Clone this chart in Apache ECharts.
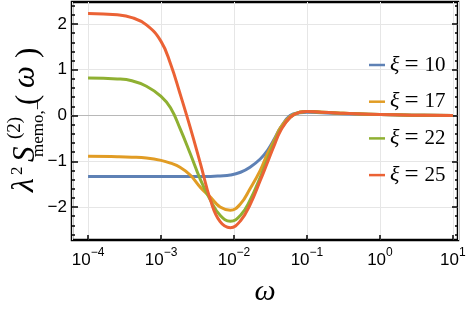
<!DOCTYPE html>
<html>
<head>
<meta charset="utf-8">
<script src="https://cdn.jsdelivr.net/npm/echarts@6/dist/echarts.min.js"></script>
<style>html,body{margin:0;padding:0;background:#fff}#c{width:468px;height:314px}</style>
</head>
<body>
<div id="c"></div>
<script>
// log10(omega) sample positions
const omegaExp = [-4, -3.6, -3.4, -3.2, -3.0, -2.87, -2.74, -2.6, -2.46, -2.32, -2.19, -2.05, -1.91, -1.78, -1.64, -1.54, -1.45, -1.36, -1.23, -1.1, -1.0, -0.8, -0.5, 0, 0.5, 1];
const xi10 = [-1.33,-1.33,-1.33,-1.33,-1.33,-1.33,-1.33,-1.33,-1.33,-1.33,-1.32,-1.30,-1.24,-1.13,-0.95,-0.76,-0.52,-0.26,0.0,0.06,0.07,0.06,0.04,0.02,0.005,0];
const xi17 = [-0.89,-0.90,-0.91,-0.93,-0.98,-1.04,-1.13,-1.30,-1.57,-1.79,-2.00,-2.07,-1.93,-1.60,-1.20,-0.83,-0.55,-0.26,-0.02,0.07,0.09,0.07,0.05,0.02,0.005,0];
const xi22 = [0.82,0.80,0.76,0.64,0.42,0.17,-0.28,-0.83,-1.40,-1.86,-2.18,-2.31,-2.18,-1.85,-1.35,-0.95,-0.60,-0.30,-0.04,0.07,0.09,0.07,0.05,0.02,0.005,0];
const xi25 = [2.23,2.20,2.14,1.98,1.62,1.13,0.48,-0.26,-1.05,-1.86,-2.32,-2.45,-2.30,-1.95,-1.42,-1.02,-0.66,-0.33,-0.04,0.07,0.09,0.07,0.05,0.02,0.005,0];
const seriesNames = ['ξ = 10', 'ξ = 17', 'ξ = 22', 'ξ = 25'];
const seriesValues = [xi10, xi17, xi22, xi25];
const colors = ['#5E81B5', '#E19C24', '#8FB032', '#EB6235'];
const yMajor = [-2, -1, 0, 1, 2];
const yMinor = [-2.6,-2.4,-2.2,-2.0,-1.8,-1.6,-1.4,-1.2,-1.0,-0.8,-0.6,-0.4,-0.2,0,0.2,0.4,0.6,0.8,1.0,1.2,1.4,1.6,1.8,2.0,2.2,2.4];
const xMin = Math.pow(10, -4.22), xMax = Math.pow(10, 1.07);
const yMin = -2.72, yMax = 2.48;

const chart = echarts.init(document.getElementById('c'));
const sansFont = 'Liberation Sans';
const serifFont = 'Liberation Serif';

function yAxisDef(pos, major) {
  return {
    type: 'value', position: pos, min: yMin, max: yMax,
    axisLine: { show: false },
    axisTick: { show: true, inside: true, length: major ? 6 : 3, customValues: major ? yMajor : yMinor,
      lineStyle: { color: '#000', width: 1.5 } },
    axisLabel: { show: major && pos === 'left', customValues: yMajor, fontFamily: sansFont, fontSize: 17, color: '#000', margin: 5,
      formatter: v => String(v).replace('-', '\u2212') },
    splitLine: { show: major && pos === 'left', lineStyle: { color: '#e6e6e6', width: 1 } }
  };
}

chart.setOption({
  animation: false,
  grid: { left: 72, right: 10, top: 2, bottom: 74, show: true, borderColor: '#000', borderWidth: 2.5,
    outerBoundsMode: 'none', containLabel: false },
  xAxis: [{
    type: 'log', min: xMin, max: xMax, position: 'bottom',
    axisLine: { show: false, onZero: false },
    axisTick: { inside: true, length: 5, lineStyle: { color: '#000', width: 1.5 } },
    axisLabel: { showMinLabel: false, showMaxLabel: false, margin: 7, color: '#000',
      formatter: v => { const e = Math.round(Math.log10(v)); return '{b|10}{e|' + String(e).replace('-', '\u2212') + '}'; },
      rich: { b: { fontFamily: sansFont, fontSize: 17, color: '#000', verticalAlign: 'bottom', lineHeight: 22 },
              e: { fontFamily: sansFont, fontSize: 12, color: '#000', verticalAlign: 'top', lineHeight: 12 } } },
    splitLine: { show: true, lineStyle: { color: '#e6e6e6', width: 1 } },
    name: 'ω', nameLocation: 'middle', nameGap: 37,
    nameTextStyle: { fontFamily: serifFont, fontStyle: 'italic', fontSize: 30, color: '#000' }
  }, {
    type: 'log', min: xMin, max: xMax, position: 'bottom',
    axisLine: { show: true, onZero: true, lineStyle: { color: '#b8b8b8', width: 1 } },
    axisTick: { show: false }, axisLabel: { show: false }, splitLine: { show: false }
  }],
  yAxis: [yAxisDef('left', true), yAxisDef('left', false), yAxisDef('right', true), yAxisDef('right', false)],
  legend: {
    orient: 'vertical', left: 364, top: 47, itemWidth: 16, itemHeight: 2.5, itemGap: 10.7, icon: 'rect',
    data: seriesNames,
    formatter: n => '{i|ξ}{e|=}{t|' + n.slice(4) + '}',
    textStyle: { lineHeight: 26, rich: {
      i: { fontFamily: serifFont, fontStyle: 'italic', fontSize: 22, color: '#000', lineHeight: 26 },
      e: { fontFamily: serifFont, fontSize: 25, color: '#000', lineHeight: 26, padding: [0, 6, 0, 5] },
      t: { fontFamily: serifFont, fontSize: 21, color: '#000', lineHeight: 26 } } }
  },
  graphic: [{
    type: 'group', x: 37, y: 197, rotation: Math.PI / 2,
    children: [
      { type: 'text', x: 5, y: 4, style: { text: 'λ', font: 'italic 32px ' + serifFont, fill: '#000', verticalAlign: 'bottom' } },
      { type: 'text', x: 22, y: -11, style: { text: '2', font: '17px ' + serifFont, fill: '#000', verticalAlign: 'bottom' } },
      { type: 'text', x: 35, y: 4, style: { text: 'S', font: 'italic 31px ' + serifFont, fill: '#000', verticalAlign: 'bottom' } },
      { type: 'text', x: 58, y: -12, style: { text: '(2)', font: '19px ' + serifFont, fill: '#000', verticalAlign: 'bottom' } },
      { type: 'text', x: 40, y: 10, style: { text: 'memo,−', font: '17px ' + serifFont, fill: '#000', verticalAlign: 'bottom' } },
      { type: 'text', x: 92, y: 7, style: { text: '(', font: '31px ' + serifFont, fill: '#000', verticalAlign: 'bottom' } },
      { type: 'text', x: 109, y: 4, style: { text: 'ω', font: 'italic 31px ' + serifFont, fill: '#000', verticalAlign: 'bottom' } },
      { type: 'text', x: 139, y: 7, style: { text: ')', font: '31px ' + serifFont, fill: '#000', verticalAlign: 'bottom' } }
    ]
  }],
  series: seriesValues.map((vals, k) => ({
    name: seriesNames[k], type: 'line', xAxisIndex: 0, yAxisIndex: 0,
    data: omegaExp.map((e, i) => [Math.pow(10, e), vals[i]]),
    smooth: 0.45, showSymbol: false, symbol: 'none',
    lineStyle: { color: colors[k], width: 3 }, itemStyle: { color: colors[k] }, z: 3 + k
  }))
});
</script>
</body>
</html>
